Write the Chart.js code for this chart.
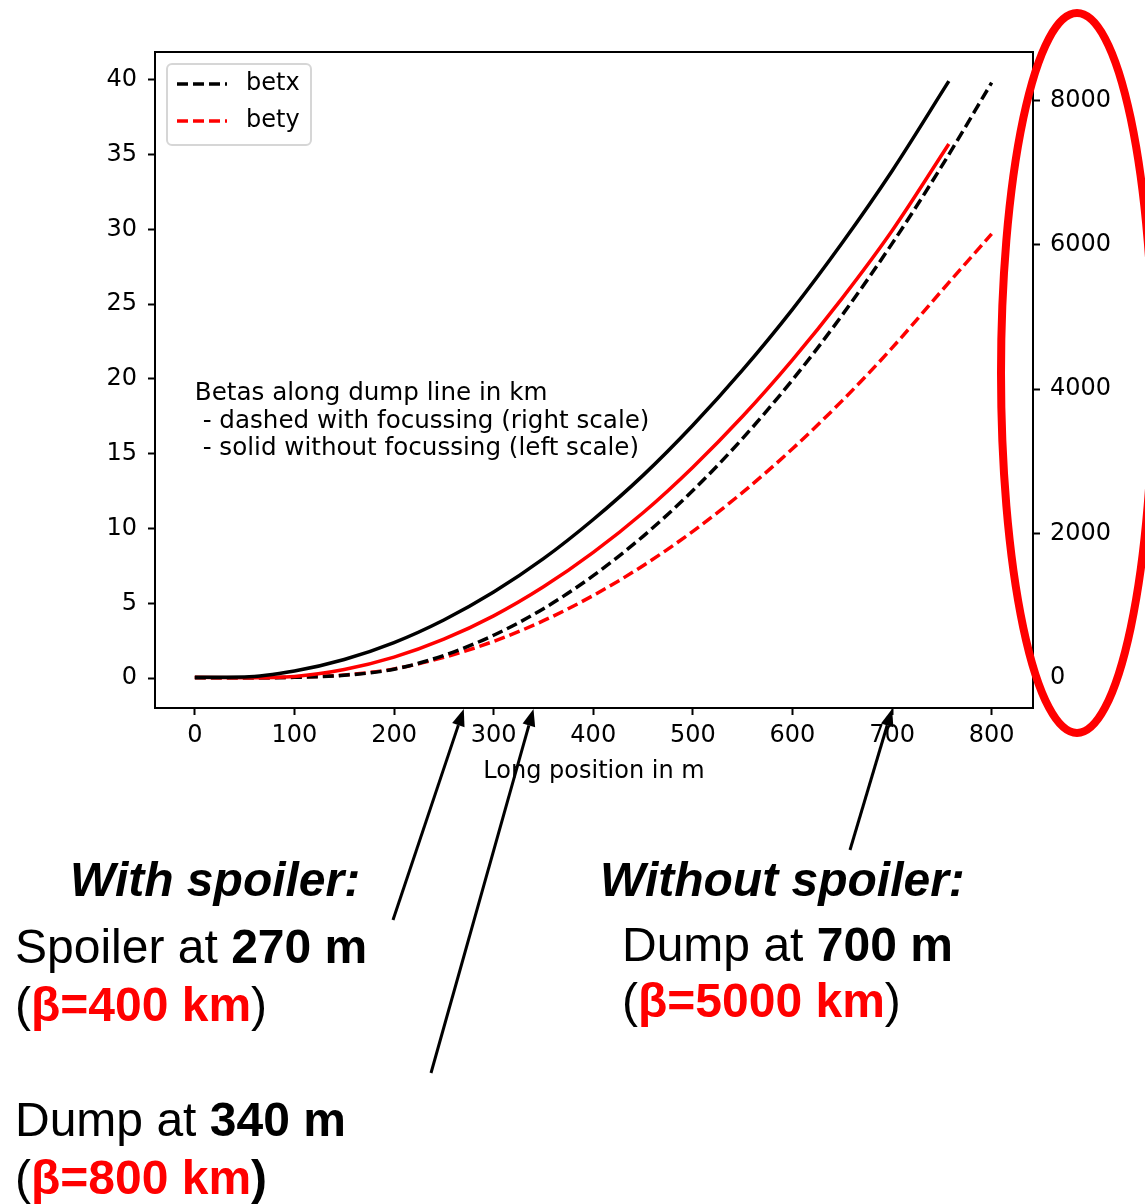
<!DOCTYPE html>
<html>
<head>
<meta charset="utf-8">
<title>Betas along dump line</title>
<script src="https://cdn.jsdelivr.net/npm/chart.js@4.4.0/dist/chart.umd.min.js"></script>
<style>
  body { margin: 0; background: #fff; }
  #wrap { position: relative; width: 1145px; height: 1204px; overflow: hidden; }
  #chart { position: absolute; left: 0; top: 0; }
  .note {
    position: absolute;
    font-family: "Liberation Sans", Arial, sans-serif;
    font-size: 48px;
    line-height: 48px;
    white-space: nowrap;
    color: #000;
  }
  .note b { font-weight: bold; }
  .note.hd { font-weight: bold; font-style: italic; }
  .note .red { color: #ff0000; font-weight: bold; }
</style>
</head>
<body>
<div id="wrap">
  <canvas id="chart" width="1145" height="1204"></canvas>

  <div class="note hd" style="left:70px; top:856px;">With spoiler:</div>
  <div class="note" style="left:15px; top:923px;">Spoiler at <b>270 m</b></div>
  <div class="note" style="left:15px; top:981px;">(<span class="red">β=400 km</span>)</div>
  <div class="note" style="left:15px; top:1096px;">Dump at <b>340 m</b></div>
  <div class="note" style="left:15px; top:1154px;">(<span class="red">β=800 km</span><b>)</b></div>

  <div class="note hd" style="left:600px; top:856px;">Without spoiler:</div>
  <div class="note" style="left:622px; top:921px;">Dump at <b>700 m</b></div>
  <div class="note" style="left:622px; top:977px;">(<span class="red">β=5000 km</span>)</div>
</div>

<script>
// long position (m) and betas (km)
const posSolid = [0, 50, 100, 150, 200, 250, 300, 350, 400, 450, 500, 550, 600, 650, 700, 757];
const betxSolid = [0.05, 0.07, 0.47, 1.24, 2.37, 3.88, 5.75, 7.98, 10.6, 13.55, 16.9, 20.6, 24.65, 29.1, 33.9, 39.9];
const betySolid = [0.05, 0.03, 0.11, 0.57, 1.40, 2.60, 4.16, 6.10, 8.40, 11.05, 14.1, 17.5, 21.27, 25.4, 29.9, 35.7];

const posDashed = [0, 50, 100, 150, 200, 250, 300, 350, 400, 450, 500, 550, 600, 650, 700, 750, 800];
const betxDashed = [5, 3, 10, 38, 122, 313, 593, 960, 1418, 1963, 2596, 3319, 4129, 5028, 6016, 7092, 8245];
const betyDashed = [5, 3, 12, 42, 127, 286, 508, 794, 1143, 1556, 2032, 2572, 3175, 3842, 4572, 5366, 6150];

const xTicks = [0, 100, 200, 300, 400, 500, 600, 700, 800];
const leftTicks = [0, 5, 10, 15, 20, 25, 30, 35, 40];
const rightTicks = [0, 2000, 4000, 6000, 8000];

// spoiler / dump positions the arrows point at (m)
const arrowTargets = [270, 340, 700];

const noteLines = [
  'Betas along dump line in km',
  ' - dashed with focussing (right scale)',
  ' - solid without focussing (left scale)'
];

const FONT = '"DejaVu Sans", sans-serif';
Chart.defaults.font.family = FONT;
Chart.defaults.font.size = 24;
Chart.defaults.color = '#000';

function pts(xs, ys) {
  return xs.map((x, i) => ({ x: x, y: ys[i] }));
}

function fixTicks(values) {
  return function (scale) {
    scale.ticks = values.map(v => ({ value: v }));
  };
}

// plain numbers, no thousands separator
const plain = v => String(v);

// box round the plot, all four sides
const frame = {
  id: 'frame',
  afterDatasetsDraw(chart) {
    const a = chart.chartArea;
    const ctx = chart.ctx;
    ctx.save();
    ctx.strokeStyle = '#000';
    ctx.lineWidth = 2;
    ctx.strokeRect(a.left, a.top, a.right - a.left, a.bottom - a.top);
    ctx.restore();
  }
};

// matplotlib style legend in upper left corner
const boxLegend = {
  id: 'boxLegend',
  afterDraw(chart) {
    const a = chart.chartArea;
    const ctx = chart.ctx;
    const items = chart.data.datasets.filter(d => d.label);
    const x = a.left + 12, y = a.top + 12, w = 144, h = 81;
    ctx.save();
    ctx.beginPath();
    ctx.roundRect(x, y, w, h, 5);
    ctx.fillStyle = 'rgba(255,255,255,0.8)';
    ctx.fill();
    ctx.strokeStyle = '#d6d6d6';
    ctx.lineWidth = 2;
    ctx.stroke();
    items.forEach((d, i) => {
      const ly = y + 20 + i * 37;
      ctx.beginPath();
      ctx.setLineDash(d.borderDash || []);
      ctx.strokeStyle = d.borderColor;
      ctx.lineWidth = d.borderWidth;
      ctx.moveTo(x + 10, ly);
      ctx.lineTo(x + 60, ly);
      ctx.stroke();
      ctx.setLineDash([]);
      ctx.fillStyle = '#000';
      ctx.font = '24px ' + FONT;
      ctx.textBaseline = 'middle';
      ctx.textAlign = 'left';
      ctx.fillText(d.label, x + 79, ly);
    });
    ctx.restore();
  }
};

// text block anchored at (0 m, 20 km)
const noteText = {
  id: 'noteText',
  afterDraw(chart) {
    const ctx = chart.ctx;
    const x0 = chart.scales.x.getPixelForValue(0);
    const y0 = chart.scales.y.getPixelForValue(20);
    ctx.save();
    ctx.font = '24.6px ' + FONT;
    ctx.fillStyle = '#000';
    ctx.textAlign = 'left';
    ctx.textBaseline = 'alphabetic';
    noteLines.forEach((t, i) => ctx.fillText(t, x0, y0 + 21.5 + i * 27.5));
    ctx.restore();
  }
};

// arrows from the captions up to the x axis, and the ring round the right scale
const callouts = {
  id: 'callouts',
  afterDraw(chart) {
    const ctx = chart.ctx;
    const tails = [[393, 920], [431, 1073], [850, 850]];
    const yTip = chart.chartArea.bottom + 1;
    ctx.save();
    ctx.strokeStyle = '#000';
    ctx.fillStyle = '#000';
    ctx.lineWidth = 3;
    arrowTargets.forEach((v, i) => {
      const tx = chart.scales.x.getPixelForValue(v);
      const [sx, sy] = tails[i];
      const ang = Math.atan2(yTip - sy, tx - sx);
      const hl = 17, hw = 6.5;
      const bx = tx - hl * Math.cos(ang), by = yTip - hl * Math.sin(ang);
      ctx.beginPath();
      ctx.moveTo(sx, sy);
      ctx.lineTo(bx, by);
      ctx.stroke();
      ctx.beginPath();
      ctx.moveTo(tx, yTip);
      ctx.lineTo(bx + hw * Math.sin(ang), by - hw * Math.cos(ang));
      ctx.lineTo(bx - hw * Math.sin(ang), by + hw * Math.cos(ang));
      ctx.closePath();
      ctx.fill();
    });
    ctx.beginPath();
    ctx.strokeStyle = '#ff0000';
    ctx.lineWidth = 8;
    ctx.ellipse(1077, 373, 76, 360, 0, 0, Math.PI * 2);
    ctx.stroke();
    ctx.restore();
  }
};

const tickGrid = {
  display: true,
  drawOnChartArea: false,
  drawTicks: true,
  tickLength: 7,
  tickWidth: 2,
  tickColor: '#000'
};

new Chart(document.getElementById('chart'), {
  type: 'line',
  data: {
    datasets: [
      {
        data: pts(posSolid, betxSolid),
        yAxisID: 'y',
        borderColor: '#000',
        borderWidth: 3.5
      },
      {
        data: pts(posSolid, betySolid),
        yAxisID: 'y',
        borderColor: '#ff0000',
        borderWidth: 3.5
      },
      {
        label: 'betx',
        data: pts(posDashed, betxDashed),
        yAxisID: 'y2',
        borderColor: '#000',
        borderWidth: 3.5,
        borderDash: [11, 5]
      },
      {
        label: 'bety',
        data: pts(posDashed, betyDashed),
        yAxisID: 'y2',
        borderColor: '#ff0000',
        borderWidth: 3.5,
        borderDash: [11, 5]
      }
    ]
  },
  options: {
    responsive: false,
    animation: false,
    devicePixelRatio: 1,
    events: [],
    layout: { padding: { left: 0, right: 0, top: 52, bottom: 406 } },
    elements: {
      point: { radius: 0 },
      line: { cubicInterpolationMode: 'monotone', fill: false, borderCapStyle: 'butt' }
    },
    plugins: {
      legend: { display: false },
      tooltip: { enabled: false }
    },
    scales: {
      x: {
        type: 'linear',
        min: -40,
        max: 841.5,
        afterBuildTicks: fixTicks(xTicks),
        afterFit(scale) { scale.height = 90; },
        grid: tickGrid,
        border: { display: false },
        ticks: { padding: 6, maxRotation: 0, callback: plain },
        title: {
          display: true,
          text: 'Long position in m',
          font: { size: 24 },
          padding: { top: 0, bottom: 12 }
        }
      },
      y: {
        type: 'linear',
        position: 'left',
        min: -2,
        max: 41.85,
        afterBuildTicks: fixTicks(leftTicks),
        afterFit(scale) { scale.width = 155; },
        grid: tickGrid,
        border: { display: false },
        ticks: { padding: 11, callback: plain }
      },
      y2: {
        type: 'linear',
        position: 'right',
        min: -415,
        max: 8670,
        afterBuildTicks: fixTicks(rightTicks),
        afterFit(scale) { scale.width = 112; },
        grid: tickGrid,
        border: { display: false },
        ticks: { padding: 10, callback: plain }
      }
    }
  },
  plugins: [frame, boxLegend, noteText, callouts]
});
</script>
</body>
</html>
